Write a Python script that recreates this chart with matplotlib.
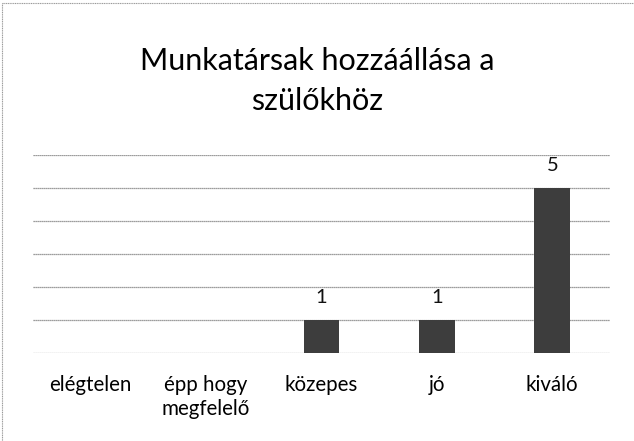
import matplotlib
matplotlib.use("Agg")
import matplotlib.pyplot as plt
from matplotlib.lines import Line2D

categories = ["elégtelen", "épp hogy\nmegfelelő", "közepes", "jó", "kiváló"]
values = [0, 0, 1, 1, 5]
title = "Munkatársak hozzáállása a\nszülőkhöz"

plt.rcParams['font.family'] = ['Lato', 'DejaVu Sans']

fig = plt.figure(figsize=(6.34, 4.41), dpi=100)
ax = fig.add_axes([33 / 634, 1 - 353 / 441, 577 / 634, 198 / 441])

x = range(len(categories))
bars = ax.bar(x, values, width=0.31, color="#3d3d3d", zorder=3)
for xi, v in zip(x, values):
    if v > 0:
        ax.text(xi, v + 0.42, str(v), ha="center", va="bottom", fontsize=14.5, color="#111111")

ax.set_xlim(-0.5, len(categories) - 0.5)
ax.set_ylim(0, 6)
ax.set_yticks(range(0, 7))
ax.yaxis.grid(True, color="#7d7d7d", linewidth=0.9, linestyle=(0, (1, 0.6)))
ax.set_axisbelow(True)
ax.tick_params(axis="y", left=False, labelleft=False)
ax.tick_params(axis="x", bottom=False, pad=12)
ax.set_xticks(list(x))
ax.set_xticklabels(categories, fontsize=14.8, va="top", linespacing=1.3)
for s in ax.spines.values():
    s.set_visible(False)

fig.text(0.5, 1 - 47 / 441, title, ha="center", va="top", fontsize=22, linespacing=1.5)

# page border (top and left edges visible)
fig.add_artist(Line2D([2 / 634, 1], [1 - 3 / 441, 1 - 3 / 441], transform=fig.transFigure,
                      color="#9a9a9a", linewidth=0.8, linestyle=(0, (1, 0.6))))
fig.add_artist(Line2D([2 / 634, 2 / 634], [0, 1 - 3 / 441], transform=fig.transFigure,
                      color="#9a9a9a", linewidth=0.8, linestyle=(0, (1, 0.6))))

fig.savefig("out.png", dpi=100)
